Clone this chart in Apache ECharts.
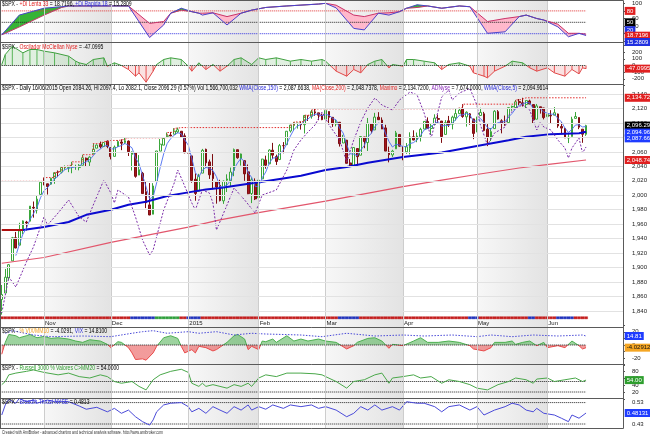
<!DOCTYPE html>
<html><head><meta charset="utf-8">
<script src="https://cdn.jsdelivr.net/npm/echarts@6/dist/echarts.min.js"></script>
<style>html,body{margin:0;padding:0;background:#fff}#c{width:650px;height:434px}</style>
</head><body><div id="c"></div><script>
// ---------- DATA ----------
const dates = [
'2014-10-16','2014-10-17','2014-10-20','2014-10-21','2014-10-22','2014-10-23','2014-10-24','2014-10-27','2014-10-28','2014-10-29','2014-10-30','2014-10-31',
'2014-11-03','2014-11-04','2014-11-05','2014-11-06','2014-11-07','2014-11-10','2014-11-11','2014-11-12','2014-11-13','2014-11-14','2014-11-17','2014-11-18','2014-11-19','2014-11-20','2014-11-21','2014-11-24','2014-11-25','2014-11-26','2014-11-28',
'2014-12-01','2014-12-02','2014-12-03','2014-12-04','2014-12-05','2014-12-08','2014-12-09','2014-12-10','2014-12-11','2014-12-12','2014-12-15','2014-12-16','2014-12-17','2014-12-18','2014-12-19','2014-12-22','2014-12-23','2014-12-24','2014-12-26','2014-12-29','2014-12-30','2014-12-31',
'2015-01-02','2015-01-05','2015-01-06','2015-01-07','2015-01-08','2015-01-09','2015-01-12','2015-01-13','2015-01-14','2015-01-15','2015-01-16','2015-01-20','2015-01-21','2015-01-22','2015-01-23','2015-01-26','2015-01-27','2015-01-28','2015-01-29','2015-01-30',
'2015-02-02','2015-02-03','2015-02-04','2015-02-05','2015-02-06','2015-02-09','2015-02-10','2015-02-11','2015-02-12','2015-02-13','2015-02-17','2015-02-18','2015-02-19','2015-02-20','2015-02-23','2015-02-24','2015-02-25','2015-02-26','2015-02-27',
'2015-03-02','2015-03-03','2015-03-04','2015-03-05','2015-03-06','2015-03-09','2015-03-10','2015-03-11','2015-03-12','2015-03-13','2015-03-16','2015-03-17','2015-03-18','2015-03-19','2015-03-20','2015-03-23','2015-03-24','2015-03-25','2015-03-26','2015-03-27','2015-03-30','2015-03-31',
'2015-04-01','2015-04-02','2015-04-06','2015-04-07','2015-04-08','2015-04-09','2015-04-10','2015-04-13','2015-04-14','2015-04-15','2015-04-16','2015-04-17','2015-04-20','2015-04-21','2015-04-22','2015-04-23','2015-04-24','2015-04-27','2015-04-28','2015-04-29','2015-04-30',
'2015-05-01','2015-05-04','2015-05-05','2015-05-06','2015-05-07','2015-05-08','2015-05-11','2015-05-12','2015-05-13','2015-05-14','2015-05-15','2015-05-18','2015-05-19','2015-05-20','2015-05-21','2015-05-22','2015-05-26','2015-05-27','2015-05-28','2015-05-29',
'2015-06-01','2015-06-02','2015-06-03','2015-06-04','2015-06-05','2015-06-08','2015-06-09','2015-06-10','2015-06-11','2015-06-12','2015-06-15','2015-06-16'];
const blankBars = 10;

const opens = [
1855.95,1864.91,1885.62,1909.38,1941.29,1931.02,1951.59,1962.97,1964.14,1983.29,1979.49,2001.20,
2018.21,2015.81,2015.29,2023.33,2032.36,2032.01,2038.20,2037.75,2039.21,2039.74,2038.29,2041.48,2051.16,2045.87,2057.46,2065.07,2070.15,2067.36,2074.78,
2065.78,2053.77,2067.45,2073.64,2072.78,2074.84,2056.55,2058.86,2027.92,2030.36,2005.03,1986.71,1973.77,2018.98,2061.04,2069.28,2081.48,2083.25,2084.30,2087.63,2088.49,2082.11,
2058.90,2054.44,2022.15,2005.55,2030.61,2063.45,2046.13,2031.58,2018.40,2013.75,1992.25,2020.76,2020.19,2034.30,2062.98,2050.42,2047.86,2032.34,2002.45,2019.35,
1996.67,2022.71,2048.86,2043.45,2062.28,2053.47,2049.38,2068.55,2069.98,2088.78,2096.47,2099.16,2099.25,2097.65,2109.83,2109.10,2115.30,2113.91,2110.88,
2105.23,2115.76,2107.72,2098.54,2100.91,2072.25,2076.14,2044.69,2041.10,2064.56,2055.35,2080.59,2072.84,2098.69,2090.32,2107.99,2103.94,2093.10,2059.94,2055.78,2064.11,2084.05,
2067.63,2060.03,2064.87,2080.79,2076.94,2081.29,2091.51,2102.03,2092.28,2097.82,2105.96,2102.58,2084.11,2102.82,2098.27,2107.21,2112.80,2119.29,2108.35,2112.49,2105.52,
2087.38,2110.23,2112.63,2091.26,2079.96,2092.13,2115.56,2102.87,2099.62,2100.43,2122.07,2121.30,2129.45,2127.79,2125.55,2130.36,2125.34,2105.13,2122.27,2120.66,
2108.64,2110.41,2110.64,2112.35,2095.09,2092.34,2079.07,2081.12,2106.24,2107.43,2091.34,2084.26];
const highs = [
1876.01,1898.16,1905.03,1942.45,1949.31,1961.95,1965.27,1964.64,1985.05,1991.40,1999.40,2018.19,
2024.46,2015.98,2023.77,2031.61,2034.26,2038.70,2041.28,2040.33,2046.18,2042.22,2043.07,2056.08,2052.14,2053.84,2071.46,2070.17,2074.21,2073.29,2075.76,
2065.78,2068.77,2076.28,2077.34,2079.47,2075.78,2060.60,2058.86,2055.53,2032.25,2018.69,2016.89,2016.75,2061.23,2077.85,2078.76,2086.73,2087.56,2092.70,2093.55,2088.49,2085.58,
2072.36,2054.44,2030.25,2029.61,2064.08,2064.43,2049.30,2056.93,2018.40,2021.35,2020.46,2028.94,2038.29,2064.62,2062.98,2057.62,2047.86,2042.49,2024.64,2023.32,
2021.66,2050.30,2054.74,2063.55,2072.40,2056.16,2070.86,2073.48,2088.53,2097.03,2101.30,2100.23,2102.13,2110.61,2110.05,2117.94,2119.59,2113.91,2112.74,
2117.52,2115.76,2107.72,2104.25,2100.91,2083.49,2076.14,2050.08,2066.41,2064.56,2081.41,2080.59,2106.85,2098.69,2113.92,2114.86,2107.63,2097.43,2067.15,2062.83,2088.97,2084.05,
2067.63,2072.17,2086.99,2089.81,2086.69,2093.31,2102.61,2107.65,2098.62,2111.91,2111.30,2102.58,2103.94,2109.64,2109.98,2120.49,2120.92,2125.92,2116.04,2113.65,2105.52,
2108.41,2120.95,2115.24,2098.42,2092.90,2117.66,2117.69,2105.06,2110.19,2121.45,2123.89,2131.78,2133.02,2134.72,2131.42,2132.15,2125.34,2126.22,2122.27,2120.66,
2117.61,2117.59,2121.92,2112.89,2100.99,2093.01,2085.62,2108.50,2115.02,2107.43,2091.34,2097.40];
const lows = [
1835.02,1864.91,1882.30,1909.38,1926.83,1931.02,1946.27,1951.37,1964.14,1969.04,1974.75,2001.20,
2013.68,2001.01,2014.42,2015.86,2025.07,2030.17,2035.28,2031.95,2030.44,2035.20,2034.46,2041.48,2040.37,2040.49,2056.75,2065.07,2064.75,2066.62,2065.06,
2049.57,2053.77,2066.65,2062.34,2070.81,2054.27,2034.17,2024.26,2027.92,2002.33,1982.26,1972.56,1973.77,2018.98,2061.03,2069.28,2079.77,2081.86,2084.30,2085.75,2079.53,2057.94,
2046.04,2017.34,1992.44,2005.55,2030.61,2038.33,2022.58,2008.25,1988.44,1991.47,1988.12,2004.49,2012.04,2026.38,2050.54,2040.97,2019.91,2001.49,1989.18,1993.38,
1980.90,2022.71,2036.72,2043.45,2049.97,2041.88,2048.62,2057.99,2069.98,2086.70,2089.80,2092.15,2090.79,2085.44,2102.68,2105.87,2109.89,2103.76,2103.75,
2104.50,2098.26,2094.49,2095.22,2067.27,2072.21,2044.16,2039.69,2041.10,2041.17,2055.35,2065.08,2061.23,2085.56,2090.32,2104.42,2091.50,2061.05,2045.50,2052.96,2064.11,2067.04,
2048.38,2057.32,2056.52,2076.10,2073.30,2074.29,2091.51,2092.33,2083.24,2097.82,2100.02,2072.37,2084.11,2094.38,2091.05,2103.19,2112.80,2107.04,2094.89,2097.41,2077.59,
2087.38,2110.23,2088.46,2067.93,2074.99,2092.13,2104.58,2085.57,2096.04,2100.43,2116.81,2120.01,2124.50,2122.59,2120.58,2126.06,2099.18,2105.13,2112.86,2104.89,
2099.14,2099.14,2110.64,2093.23,2085.67,2079.11,2072.14,2081.12,2106.24,2091.33,2072.49,2082.10];
const closes = [
1862.76,1886.76,1904.01,1941.28,1927.11,1950.82,1964.58,1961.63,1985.05,1982.30,1994.65,2018.05,
2017.81,2012.10,2023.57,2031.21,2031.92,2038.26,2039.68,2038.25,2039.33,2039.82,2041.32,2051.80,2048.72,2052.75,2063.50,2069.41,2067.03,2072.83,2067.56,
2053.44,2066.55,2074.33,2071.92,2075.37,2060.31,2059.82,2026.14,2035.33,2002.33,1989.63,1972.74,2012.89,2061.23,2070.65,2078.54,2082.17,2081.88,2088.77,2090.57,2080.35,2058.90,
2058.20,2020.58,2002.61,2025.90,2062.14,2044.81,2028.26,2023.03,2011.27,1992.67,2019.42,2022.55,2032.12,2063.15,2051.82,2057.09,2029.55,2002.16,2021.25,1994.99,
2020.85,2050.03,2041.51,2062.52,2055.47,2046.74,2068.59,2068.53,2088.48,2096.99,2100.34,2099.68,2097.45,2110.30,2109.66,2115.48,2113.86,2110.74,2104.50,
2117.39,2107.78,2098.53,2101.04,2071.26,2079.43,2044.16,2040.24,2065.95,2053.40,2081.19,2074.28,2099.50,2089.27,2108.10,2104.42,2091.50,2061.05,2056.15,2061.02,2086.24,2067.89,
2059.69,2066.96,2080.62,2076.33,2081.90,2091.18,2102.06,2092.43,2095.84,2106.63,2104.99,2081.18,2100.40,2097.29,2107.96,2112.93,2117.69,2108.92,2114.76,2106.85,2085.51,
2108.29,2114.49,2089.46,2080.15,2088.00,2116.10,2105.33,2099.12,2098.48,2121.10,2122.73,2129.20,2127.83,2125.85,2130.82,2126.06,2104.20,2123.48,2120.79,2107.39,
2111.73,2109.60,2114.07,2095.84,2092.83,2079.28,2080.15,2105.20,2108.86,2094.11,2084.43,2096.29];
const priorHigh = 2019.26;   // highest high before the first bar (Maximo seed)

// Smooth overlay lines: [bar index, value]
const wma150Pts = [[6,1952],[12,1956],[19,1963],[24,1973],[31,1980],[36,1987],[41,1991],[47,1999],[53,2004],[58,2008],[62,2010],[73,2018],[85,2027],[92,2035],[98,2039],[104,2045],[114,2053],[125,2059],[135,2068],[144,2076],[149,2081],[156,2084.5],[164,2085.8],[166,2087.66]];
const wma150Lead = [[0,1952],[6,1952]];
const ma200Pts = [[0,1906],[12,1914],[31,1935],[53,1956],[62,1966],[73,1976],[92,1992],[114,2012],[125,2021],[134,2028],[147,2037.7],[156,2043],[166,2048.74]];
const adNyse = [[0,136],[2,1771],[4,1317],[7,2452],[9,3133],[12,4495],[13,4131],[16,4676],[19,5266],[22,4495],[24,4268],[26,5039],[29,6174],[31,5584],[32,5130],[33,5720],[36,5403],[38,4495],[40,3450],[42,2769],[43,2996],[46,4812],[49,6038],[50,6628],[51,6265],[54,5130],[55,4812],[57,5720],[59,5584],[60,5130],[61,3904],[64,5039],[66,5811],[69,5266],[72,4676],[74,5493],[78,5720],[81,6628],[83,7536],[85,7990],[87,8354],[89,8671],[91,9262],[93,8671],[96,7990],[98,6992],[100,7990],[102,8808],[104,9443],[106,9897],[108,9579],[111,9352],[113,9806],[116,10170],[118,10033],[120,9216],[122,8081],[125,9943],[127,10260],[128,9806],[130,10124],[133,10330],[135,9579],[136,8671],[138,7763],[140,8308],[143,8581],[144,9125],[146,9443],[148,9579],[150,9352],[152,8444],[153,8808],[154,8581],[156,8444],[158,7990],[160,7627],[161,7173],[162,7627],[164,8081],[165,7400],[166,7674]];

// +DI pane
const adxIdx  = [0,5,12,17,19,23,36,42,46,48,51,54,56,57,60,64,68,71,75,81,90,92,95,100,103,107,110,113,115,118,121,125,130,133,138,143,147,149,152,154,158,161,164,166];
const adxFast = [17,69,87,91,93,93,93,10,43,74,87,78,74,69,75,43,74,82,89,93,98,100,88,34,30,74,69,78,87,96,93,87,93,91,21,25,65,69,60,56,38,12,21,15.2809];
const adxSlow = [17,38,69,89,93,93,93,47,52,74,82,78,74,74,75,65,74,82,89,93,98,100,95,69,65,74,75,78,87,89,93,87,93,91,52,60,65,69,60,56,45,21,21,18.7196];
const adxLevels = [80,50,20];

const mcClellan = [[0,15],[1,165],[3,290],[6,190],[8,240],[10,240],[12,215],[15,190],[19,140],[21,65],[22,40],[24,15],[26,90],[29,115],[30,-10],[32,40],[34,0],[36,-60],[38,-160],[39,-110],[41,-250],[43,-85],[44,15],[46,90],[48,115],[51,90],[53,-10],[54,-85],[56,40],[58,-60],[60,15],[62,-85],[64,-10],[66,90],[68,115],[71,15],[73,115],[75,90],[78,115],[82,65],[85,90],[88,65],[91,90],[92,65],[93,15],[95,-85],[98,-160],[100,-60],[102,-110],[104,15],[106,65],[108,90],[110,-35],[111,15],[114,-10],[115,90],[117,90],[120,65],[123,40],[125,-60],[127,15],[130,40],[133,-10],[134,-110],[137,-160],[138,-185],[140,-85],[143,-10],[145,65],[148,40],[150,-35],[152,-85],[155,-35],[157,-110],[160,-160],[162,-60],[164,-125],[165,-35],[166,-47.0995]];

const vixPct = [[0,-14],[1,4],[2,16],[4,14],[5,11],[7,14],[8,16],[10,11],[12,13],[14,10],[16,11],[19,9],[21,6],[23,4],[25,8],[28,6],[30,1],[31,-4],[33,5],[34,4],[36,-4],[37,-12],[38,-22],[40,-21],[41,-23],[43,-12],[44,-2],[46,11],[48,14],[50,10],[51,-2],[52,-12],[54,-7],[55,-12],[56,-2],[58,-4],[60,-9],[61,-7],[64,4],[66,14],[67,16],[69,9],[70,-7],[71,-2],[73,-7],[74,6],[75,5],[77,9],[78,4],[81,14],[83,6],[85,9],[87,6],[90,9],[92,6],[95,4],[98,-6],[100,-1],[101,4],[104,10],[106,11],[108,6],[110,-5],[111,1],[114,-1],[117,6],[119,11],[121,4],[124,4],[127,6],[130,4],[133,-1],[134,-6],[137,-9],[139,-4],[140,4],[143,4],[145,6],[146,1],[148,4],[150,6],[152,-1],[154,4],[155,-4],[158,-1],[160,-4],[162,6],[164,-1],[165,-6],[166,-4.0291]];
const vixLevel = [[1,18.9],[3,22.8],[9,16.3],[14,13.8],[23,14.8],[31,13.8],[37,18.9],[40,21.3],[43,22.8],[47,18.9],[53,21.3],[56,18.9],[61,21.3],[66,16.3],[71,18.9],[75,17.8],[85,16.3],[91,13.8],[98,18.9],[106,14.8],[114,16.3],[120,14.8],[128,16.3],[135,13.8],[139,16.3],[145,13.8],[151,16.3],[158,14.8],[165,16.3],[166,14.81]];

const russell = [[0,41],[1,50],[2,69],[4,74],[7,79],[9,83],[12,76],[16,69],[19,74],[22,64],[25,60],[28,69],[30,64],[32,50],[34,45],[37,50],[39,36],[41,26],[43,55],[45,69],[48,79],[51,85],[53,76],[54,45],[56,36],[57,45],[58,36],[60,41],[62,36],[64,31],[66,41],[68,36],[70,45],[71,36],[73,60],[75,69],[78,64],[81,74],[85,74],[89,72],[91,69],[92,64],[95,50],[98,31],[100,50],[103,55],[106,69],[108,74],[110,45],[111,60],[114,64],[117,69],[119,60],[122,64],[125,45],[127,55],[130,50],[133,41],[135,31],[138,26],[141,41],[144,50],[146,60],[149,55],[151,45],[152,57],[155,60],[157,50],[160,55],[163,60],[165,50],[166,54]];
const russellLevels = [50,20];

const breadth = [[0,.472],[1,.519],[2,.545],[4,.527],[5,.55],[7,.534],[9,.542],[10,.527],[13,.542],[15,.534],[19,.534],[22,.514],[24,.499],[27,.508],[30,.487],[32,.503],[34,.48],[36,.495],[38,.464],[40,.441],[42,.425],[43,.449],[44,.487],[46,.519],[48,.527],[51,.53],[53,.511],[54,.487],[56,.503],[58,.48],[60,.511],[62,.495],[64,.48],[66,.511],[68,.495],[70,.519],[71,.495],[73,.511],[75,.499],[77,.519],[80,.503],[82,.519],[85,.511],[88,.519],[90,.503],[92,.511],[95,.495],[98,.464],[100,.48],[102,.511],[104,.495],[106,.519],[108,.495],[111,.511],[113,.495],[115,.534],[118,.527],[120,.527],[123,.511],[125,.487],[127,.511],[130,.519],[133,.495],[135,.511],[137,.472],[140,.495],[143,.511],[145,.527],[147,.519],[149,.495],[151,.487],[152,.503],[154,.48],[157,.472],[159,.457],[161,.441],[162,.472],[164,.457],[166,.4813]];
const breadthLevels = [0.53,0.43];

// colour ribbon under the price pane: [first bar, last bar]
const ribbonBlue = [[37,43],[53,56],[96,101],[133,135],[150,151],[158,162]];
const ribbonGreen = [[44,50]];

const monthTicks = [['2014-11-03','Nov'],['2014-12-01','Dec'],['2015-01-02','2015'],['2015-02-02','Feb'],['2015-03-02','Mar'],['2015-04-01','Apr'],['2015-05-01','May'],['2015-06-01','Jun']];
const shadedMonths = [['2014-11-03','2014-12-01'],['2015-01-02','2015-02-02'],['2015-03-02','2015-04-01'],['2015-05-01','2015-06-01']];
const priceTicks = [1840,1860,1880,1900,1920,1940,1960,1980,2000,2020,2040,2060,2080,2100,2120,2140];

// ---------- BUILD ----------
const FF = '"Liberation Sans", Arial, Helvetica, sans-serif';
const chart = echarts.init(document.getElementById('c'), null, {renderer:'canvas', width:650, height:434});
const NB = dates.length, lastI = NB - 1;
const cats = dates.concat(Array.from({length: blankBars}, (_, i) => 'blank-' + (i + 1)));
const LASTCAT = cats.length - 1;
const idxOf = d => dates.indexOf(d);
const monthLabel = {}; monthTicks.forEach(m => monthLabel[idxOf(m[0])] = m[1]);
const isMonth = i => monthLabel[i] !== undefined;
const comma = n => { const p = n.toFixed(2).split('.'); return p[0].replace(/\B(?=(\d{3})+(?!\d))/g, ',') + '.' + p[1]; };

const candles = dates.map((d, i) => [opens[i], closes[i], lows[i], highs[i]]);
const wma5 = closes.map((c, i) => i < 4 ? '-' : (closes[i-4] + 2*closes[i-3] + 3*closes[i-2] + 4*closes[i-1] + 5*c) / 15);
let runMax = priorHigh;
const maximo = highs.map(h => (runMax = Math.max(runMax, h)));

const L = 0, R = 27;
const G = (top, height) => ({left:L, right:R, top, height, outerBoundsMode:'none', containLabel:false, show:false});
const grids = [G(0,428), G(3.3,38), G(45.5,40), G(79.5,246), G(316.5,2.6), G(325.2,39.6), G(364,35), G(398.3,30)];

const hidX = g => ({type:'category', gridIndex:g, data:cats, boundaryGap:true, axisLine:{show:false}, axisTick:{show:false}, axisLabel:{show:false}, splitLine:{show:false}});
const xAxes = grids.map((g, i) => hidX(i));
xAxes[4] = {type:'category', gridIndex:4, data:cats, boundaryGap:true, axisLine:{show:false}, splitLine:{show:false},
  axisTick:{show:true, interval:(i) => isMonth(i), alignWithLabel:true, length:4, lineStyle:{color:'#333', width:1}},
  axisLabel:{show:false}};

const lab = (fmt) => ({show:true, formatter:fmt, fontSize:6, color:'#222', margin:9, fontFamily:FF});
const rightY = (g, min, max, interval, fmt, tick) => ({type:'value', gridIndex:g, position:'right', min, max, interval,
  axisLine:{show:false}, axisTick:{show:tick !== false, length:2, lineStyle:{color:'#555'}}, splitLine:{show:false}, axisLabel:lab(fmt)});
const hidY = (g, min, max) => ({type:'value', gridIndex:g, min, max, show:false, splitLine:{show:false}});
const near = (a, b) => Math.abs(a - b) < 1e-6;
const yAxes = [
  hidY(0, 0, 1),                                                                  //0
  rightY(1, 0, 100, 20, v => (v === 0 || v === 80 || v === 20) ? '' : v),         //1
  rightY(2, -300, 300, 100, v => Math.abs(v) === 300 ? '' : v),                  //2
  rightY(3, 1820, 2160, 20, v => (v < 1840 || v > 2140) ? '' : String(v).replace(/\B(?=(\d{3})+(?!\d))/g, ','), false), //3
  hidY(3, -431.3, 10737.1),                                                       //4 ADNyse
  hidY(4, 0, 1),                                                                  //5 ribbon
  rightY(5, -30, 30, 10, v => (v === 20 || v === 0 || v === -20) ? v : ''),      //6
  hidY(5, -28.39, 31.01),                                                         //7 VIX
  rightY(6, 0, 100, 20, v => (v === 0 || v === 100) ? '' : v),                   //8
  rightY(7, 0.41, 0.55, 0.01, v => (near(v, 0.43) || near(v, 0.53)) ? v.toFixed(2) : '', false) //9
];

const box = (v, text, bg, dy, fg) => ({coord:[LASTCAT, v], symbol:'rect', symbolSize:1, itemStyle:{color:'rgba(0,0,0,0)'},
  label:{show:true, position:'right', distance:3, offset:[0, dy || 0], formatter:text, color:fg || '#fff', backgroundColor:bg,
         padding:[1,2,0,2], fontSize:6, lineHeight:7, fontFamily:FF}});
const hline = (xi, yi, v, color, type) => ({type:'line', xAxisIndex:xi, yAxisIndex:yi, data:[[0, v], [lastI, v]], symbol:'none', silent:true, lineStyle:{color, width:1, type}});
const inSeg = (segs, i) => segs.some(s => i >= s[0] && i <= s[1]);

const series = [];
const add = s => { series.push(Object.assign({animation:false}, s)); return series.length - 1; };

// background shading + month lines
add({type:'line', xAxisIndex:0, yAxisIndex:0, data:[], silent:true,
  markArea:{silent:true, itemStyle:{color:{type:'linear', x:0, y:0, x2:1, y2:0, colorStops:[{offset:0, color:'#f7f7f7'}, {offset:1, color:'#e3e3e3'}]}},
    data: shadedMonths.map(r => [{xAxis: idxOf(r[0])}, {xAxis: idxOf(r[1])}])},
  markLine:{silent:true, symbol:['none','none'], label:{show:false}, lineStyle:{color:'#cdcdcd', width:1, type:'solid'},
    data: monthTicks.map(m => ({xAxis: idxOf(m[0])}))}});

// +DI pane
const adxSegs = adxIdx.slice(0, -1).map((x, i) => [x, adxFast[i], adxSlow[i], adxIdx[i+1], adxFast[i+1], adxSlow[i+1]]);
add({type:'custom', xAxisIndex:1, yAxisIndex:1, silent:true, data:adxSegs, encode:{x:[0,3], y:[1,2,4,5]},
  renderItem:(params, api) => {
    const x0 = api.value(0), f0 = api.value(1), s0 = api.value(2), x1 = api.value(3), f1 = api.value(4), s1 = api.value(5);
    const F0 = api.coord([x0, f0]), S0 = api.coord([x0, s0]), F1 = api.coord([x1, f1]), S1 = api.coord([x1, s1]);
    const d0 = f0 - s0, d1 = f1 - s1;
    const col = d => d >= 0 ? '#36b336' : '#ffb8cb';
    const poly = (pts, c) => ({type:'polygon', shape:{points:pts}, style:{fill:c, stroke:c, lineWidth:0.3}});
    if (d0 * d1 < 0) {
      const t = d0 / (d0 - d1);
      const M = [F0[0] + t * (F1[0] - F0[0]), F0[1] + t * (F1[1] - F0[1])];
      return {type:'group', children:[poly([F0, M, S0], col(d0)), poly([M, F1, S1], col(d1))]};
    }
    return {type:'group', children:[poly([F0, F1, S1, S0], col(d0 + d1))]};
  }});
add(hline(1, 1, adxLevels[0], '#e03030', 'dotted'));
add(hline(1, 1, adxLevels[1], '#222222', 'dotted'));
add(hline(1, 1, adxLevels[2], '#3030e0', 'dotted'));
add({type:'line', xAxisIndex:1, yAxisIndex:1, data:adxIdx.map((x, i) => [x, adxSlow[i]]), symbol:'none', lineStyle:{color:'#c8346a', width:1}});
add({type:'line', xAxisIndex:1, yAxisIndex:1, data:adxIdx.map((x, i) => [x, adxFast[i]]), symbol:'none', lineStyle:{color:'#4a44cc', width:1}});
add({type:'line', xAxisIndex:1, yAxisIndex:1, data:[], markPoint:{silent:true, data:[
  box(adxLevels[0], '80', '#e02020', 0), box(adxLevels[1], '50', '#000', 0), box(adxLevels[2], '20', '#2030e0', -3.5),
  box(adxSlow[adxSlow.length-1], '18.7196', '#e02020', 1.5), box(adxFast[adxFast.length-1], '15.2809', '#2030e0', 6.5)]}});

// McClellan pane
add({type:'bar', xAxisIndex:2, yAxisIndex:2, data:mcClellan, barWidth:1, silent:true,
  itemStyle:{color:p => p.value[1] >= 0 ? '#5cb85c' : '#e85050'}});
const iMc = add({type:'line', xAxisIndex:2, yAxisIndex:2, data:mcClellan, symbol:'none', lineStyle:{width:1}, areaStyle:{opacity:0.16}});
add(hline(2, 2, 0, '#222', 'dotted'));
add({type:'line', xAxisIndex:2, yAxisIndex:2, data:[], markPoint:{silent:true, data:[box(mcClellan[mcClellan.length-1][1], '-47.0995', '#e02020', 0)]}});

// price pane
add({type:'line', xAxisIndex:3, yAxisIndex:3, data:[], silent:true,
  markLine:{silent:true, symbol:['none','none'], label:{show:false}, lineStyle:{color:'#e2e2e2', width:1, type:'solid'}, data: priceTicks.map(v => ({yAxis:v}))}});
add({type:'candlestick', xAxisIndex:3, yAxisIndex:3, data:candles, barWidth:'64%', silent:true,
  itemStyle:{color:'#ffffff', color0:'#a3171b', borderColor:'#3aa63a', borderColor0:'#7e0e12', borderWidth:1}});
add({type:'line', xAxisIndex:3, yAxisIndex:3, data:ma200Pts, symbol:'none', silent:true, lineStyle:{color:'#e2566c', width:1.2}});
add({type:'line', xAxisIndex:3, yAxisIndex:3, data:wma150Lead, symbol:'none', silent:true, lineStyle:{color:'#b01010', width:2}});
add({type:'line', xAxisIndex:3, yAxisIndex:3, data:wma150Pts, symbol:'none', silent:true, lineStyle:{color:'#0a0ad0', width:2}});
add({type:'line', xAxisIndex:3, yAxisIndex:3, data:wma5, symbol:'none', silent:true, lineStyle:{color:'#4a6cf0', width:0.9}});
add({type:'line', xAxisIndex:3, yAxisIndex:3, data:maximo, step:'end', symbol:'none', silent:true, lineStyle:{color:'#e02a2a', width:1, type:[1.5,1.5]}});
add({type:'line', xAxisIndex:3, yAxisIndex:4, data:adNyse, symbol:'none', silent:true, lineStyle:{color:'#7a2aa8', width:1, type:[2,1.6]}});
add({type:'line', xAxisIndex:3, yAxisIndex:3, data:[], markPoint:{silent:true, data:[
  box(maximo[lastI], comma(maximo[lastI]), '#e02020', 0),
  box(closes[lastI], comma(closes[lastI]), '#000', 0),
  box(wma5[lastI], comma(wma5[lastI]), '#1f3cff', 6),
  box(wma150Pts[wma150Pts.length-1][1], comma(wma150Pts[wma150Pts.length-1][1]), '#1f3cff', 6.5),
  box(ma200Pts[ma200Pts.length-1][1], comma(ma200Pts[ma200Pts.length-1][1]), '#e02020', 0)]}});

// ribbon + month labels
add({type:'bar', xAxisIndex:4, yAxisIndex:5, silent:true, barWidth:'100%', barCategoryGap:'0%',
  data: dates.map((d, i) => { const c = inSeg(ribbonGreen, i) ? '#2e9e3a' : inSeg(ribbonBlue, i) ? '#2233bb' : '#c41f1f';
    return {value:1, itemStyle:{color:c, borderColor:c, borderWidth:0.4}}; }),
  markPoint:{silent:true, data: monthTicks.map(m => ({coord:[idxOf(m[0]), 0], symbol:'rect', symbolSize:1, itemStyle:{color:'rgba(0,0,0,0)'},
    label:{show:true, formatter:m[1], position:[1.5, 1.5], align:'left', verticalAlign:'top', fontSize:6, color:'#222', fontFamily:FF}}))}});

// %VIX pane
const iVix = add({type:'line', xAxisIndex:5, yAxisIndex:6, data:vixPct, symbol:'none', lineStyle:{width:1}, areaStyle:{opacity:0.55}, silent:true});
add(hline(5, 6, 0, '#222', 'dotted'));
add({type:'line', xAxisIndex:5, yAxisIndex:7, data:vixLevel, symbol:'none', silent:true, lineStyle:{color:'#4a4ad8', width:1, type:[1.5,1.5]}});
add({type:'line', xAxisIndex:5, yAxisIndex:6, data:[], markPoint:{silent:true, data:[box(vixPct[vixPct.length-1][1], '-4.02912', '#f5a623', 0, '#111')]}});
add({type:'line', xAxisIndex:5, yAxisIndex:7, data:[], markPoint:{silent:true, data:[box(vixLevel[vixLevel.length-1][1], '14.81', '#1f3cff', 0)]}});

// Russell pane
russellLevels.forEach(v => add(hline(6, 8, v, '#222', 'dotted')));
add({type:'line', xAxisIndex:6, yAxisIndex:8, data:russell, symbol:'none', silent:true, lineStyle:{color:'#4aa84a', width:1}});
add({type:'line', xAxisIndex:6, yAxisIndex:8, data:[], markPoint:{silent:true, data:[box(russell[russell.length-1][1], '54.00', '#2e9e2e', 0)]}});

// Breadth pane
breadthLevels.forEach(v => add(hline(7, 9, v, '#222', 'dotted')));
add({type:'line', xAxisIndex:7, yAxisIndex:9, data:breadth, symbol:'none', silent:true, lineStyle:{color:'#4a4ad8', width:1}});
add({type:'line', xAxisIndex:7, yAxisIndex:9, data:[], markPoint:{silent:true, data:[box(breadth[breadth.length-1][1], '0.48131', '#1f3cff', 0)]}});

// ---------- TEXT / FRAMES ----------
const title = (y, parts, fs, sx) => {
  const rich = {}; let text = '';
  parts.forEach((p, i) => { rich['p' + i] = {fill:p[1], fontSize:fs, fontFamily:FF}; text += '{p' + i + '|' + p[0] + '}'; });
  return {type:'text', x:2, y, scaleX:sx, z:100, silent:true, style:{text, rich, fontSize:fs, fontFamily:FF, fill:'#000', verticalAlign:'top'}};
};
const K = '#000';
const graphics = [
  title(1, [['$SPX - ', K], ['+Di Lenta 33', '#e02020'], [' = 18.7196, ', K], ['+Di Rapida 18', '#2a2ad8'], [' = 15.2809', K]], 6.5, 0.78),
  title(43.6, [['$SPX - ', K], ['Oscilador McClellan Nyse', '#e02020'], [' = -47.0995', K]], 6.5, 0.78),
  title(85, [['$SPX - Daily 16/06/2015 Open 2084.26, Hi 2097.4, Lo 2082.1, Close 2096.29 (0.57%) Vol 1,566,700,032 ', K], ['WMA(Close,150)', '#2a2ad8'], [' = 2,087.6638, ', K], ['MA(Close,200)', '#e02020'], [' = 2,048.7378, ', K], ['Maximo', '#e02020'], [' = 2,134.7200, ', K], ['ADNyse', '#8a2ab8'], [' = 7,674.0000, ', K], ['WMA(Close,5)', '#2a2ad8'], [' = 2,094.9614', K]], 6.5, 0.78),
  title(327.4, [['$SPX - ', K], ['% VIX/MM10', '#f0a020'], [' = -4.0291, ', K], ['VIX', '#2a2ad8'], [' = 14.8100', K]], 6.5, 0.78),
  title(364.6, [['$SPX - ', K], ['Russell 3000 % Valores C>MM20', '#2e9e2e'], [' = 54.0000', K]], 6.5, 0.78),
  title(398.8, [['$SPX - ', K], ['Breadth Thrust NYSE', '#2a2ad8'], [' = 0.4813', K]], 6.5, 0.78),
  title(429, [['Created with AmiBroker - advanced charting and technical analysis software. http://www.amibroker.com', '#333']], 5.5, 0.64)
];
[0.5, 42.5, 84.5, 327.5, 364.5, 398.5, 428.5].forEach(y => graphics.push({type:'line', z:100, silent:true, shape:{x1:0, y1:y, x2:623.5, y2:y}, style:{stroke:'#5a5a5a', lineWidth:1}}));
[0.5, 623.5].forEach(x => graphics.push({type:'line', z:100, silent:true, shape:{x1:x, y1:0.5, x2:x, y2:428.5}, style:{stroke:'#5a5a5a', lineWidth:1}}));

chart.setOption({
  animation:false,
  backgroundColor:'#ffffff',
  textStyle:{fontFamily:FF},
  grid:grids, xAxis:xAxes, yAxis:yAxes,
  visualMap:[
    {type:'piecewise', show:false, seriesIndex:iMc, dimension:1, pieces:[{gte:-1000, lt:0, color:'#e04848'}, {gte:0, lte:1000, color:'#3f9f3f'}]},
    {type:'piecewise', show:false, seriesIndex:iVix, dimension:1, pieces:[{gte:-100, lt:0, color:'#e84a4a'}, {gte:0, lte:100, color:'#4caf50'}]}
  ],
  series:series,
  graphic:graphics
});
</script></body></html>
